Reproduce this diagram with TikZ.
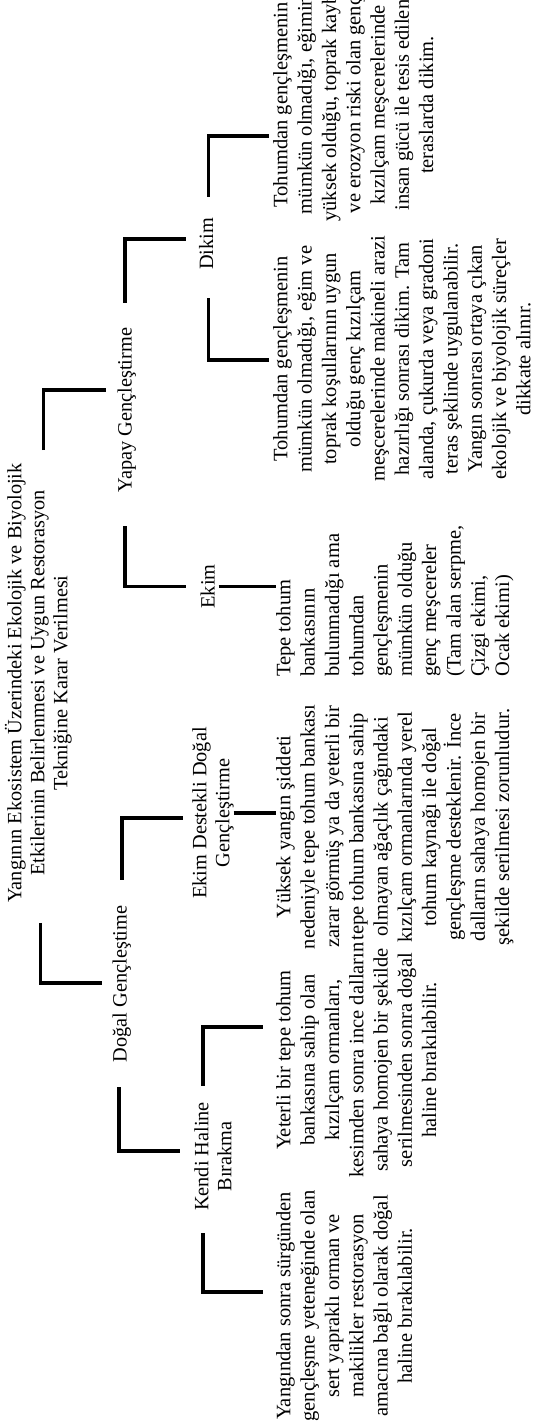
\documentclass[tikz,border=0pt]{standalone}
\usepackage{fontspec}
\setmainfont{Liberation Serif}
\begin{document}
\begin{tikzpicture}[x=1pt, y=1pt,
  lbl/.style={font=\fontsize{20.3}{23}\selectfont, align=center, inner sep=0pt, anchor=north,
    rotate=90, execute at begin node=\strut, execute at end node=\strut},
  leaf/.style={font=\fontsize{20.5}{24.3}\selectfont, align=center, inner sep=0pt, anchor=north,
    rotate=90, execute at begin node=\strut, execute at end node=\strut},
  bracket/.style={line width=3.2pt, line join=miter}
]
\useasboundingbox (0,0) rectangle (538,1422);
\clip (0,0) rectangle (538,1422);
% Every label reads upwards; x runs down the levels of the tree, y along them
% root and the two main methods
\node[lbl] (title) at (4.7,739) {Yangının Ekosistem Üzerindeki Ekolojik ve Biyolojik\\Etkilerinin Belirlenmesi ve Uygun Restorasyon\\Tekniğine Karar Verilmesi};
\node[lbl] (dogal) at (110.2,438) {Doğal Gençleştime};
\node[lbl] (yapay) at (115.2,1012) {Yapay Gençleştirme};
% second level
\node[lbl] (kendi) at (194.2,265.5) {Kendi Haline\\Bırakma};
\node[lbl] (ekimd) at (192.2,609) {Ekim Destekli Doğal\\Gençleştirme};
\node[lbl] (ekim) at (198.2,835.5) {Ekim};
\node[lbl] (dikim) at (196.7,1178) {Dikim};
% descriptions
\node[leaf] (leaf1) at (276,116) {Yangından sonra sürgünden\\gençleşme yeteneğinde olan\\sert yapraklı orman ve\\makilikler restorasyon\\amacına bağlı olarak doğal\\haline bırakılabilir.};
\node[leaf] (leaf2) at (276,362) {Yeterli bir tepe tohum\\bankasına sahip olan\\kızılçam ormanları,\\kesimden sonra ince dalların\\sahaya homojen bir şekilde\\serilmesinden sonra doğal\\haline bırakılabilir.};
\node[leaf] (leaf3) at (276,595) {Yüksek yangın şiddeti\\nedeniyle tepe tohum bankası\\zarar görmüş ya da yeterli bir\\tepe tohum bankasına sahip\\olmayan ağaçlık çağındaki\\kızılçam ormanlarında yerel\\tohum kaynağı ile doğal\\gençleşme desteklenir. İnce\\dalların sahaya homojen bir\\şekilde serilmesi zorunludur.};
\node[leaf, align=left, anchor=north west] (leaf4) at (276,745) {Tepe tohum\\bankasının\\bulunmadığı ama\\tohumdan\\gençleşmenin\\mümkün olduğu\\genç meşcereler\\(Tam alan serpme,\\Çizgi ekimi,\\Ocak ekimi)};
\node[leaf] (leaf5) at (273,1063) {Tohumdan gençleşmenin\\mümkün olmadığı, eğim ve\\toprak koşullarının uygun\\olduğu genç kızılçam\\meşcerelerinde makineli arazi\\hazırlığı sonrası dikim. Tam\\alanda, çukurda veya gradoni\\teras şeklinde uygulanabilir.\\Yangın sonrası ortaya çıkan\\ekolojik ve biyolojik süreçler\\dikkate alınır.};
\node[leaf] (leaf6) at (273,1317) {Tohumdan gençleşmenin\\mümkün olmadığı, eğimin\\yüksek olduğu, toprak kaybı\\ve erozyon riski olan genç\\kızılçam meşcerelerinde\\insan gücü ile tesis edilen\\teraslarda dikim.};

% connectors: out from the side of a label, along the level, then over to the child
\draw[bracket] ([xshift=1pt,yshift=-20pt]title.west) |- ([xshift=-8pt,yshift=1pt]dogal.north);
\draw[bracket] ([xshift=4pt,yshift=13pt]title.east) |- ([xshift=-9pt,yshift=20pt]yapay.north);
\draw[bracket] ([xshift=-3pt,yshift=-25pt]dogal.west) |- ([xshift=-14pt,yshift=5.5pt]kendi.north);
\draw[bracket] ([yshift=26pt]dogal.east) |- ([xshift=-9pt,yshift=-5pt]ekimd.north);
\draw[bracket] ([xshift=-2pt,yshift=-34pt]yapay.west) |- ([xshift=-12pt]ekim.north);
\draw[bracket] ([xshift=-2pt,yshift=25pt]yapay.east) |- ([xshift=-11pt,yshift=5pt]dikim.north);
\draw[bracket] ([xshift=8.8pt,yshift=-22pt]kendi.north west) |- ([xshift=-13pt,yshift=14pt]leaf1.north);
\draw[bracket] ([xshift=8.8pt,yshift=16pt]kendi.north east) |- ([xshift=-13pt,yshift=33pt]leaf2.north);
\draw[bracket] ([xshift=-3pt]ekimd.south) -- (ekimd.south -| leaf3.north);
\draw[bracket] ([xshift=-3pt]ekim.south) -- (ekim.south -| leaf4.north west);
\draw[bracket] ([yshift=-28pt]dikim.west) |- ([xshift=-4.5pt,yshift=-1pt]leaf5.north);
\draw[bracket] ([yshift=21pt]dikim.east) |- ([xshift=-4.5pt,yshift=-31pt]leaf6.north);
\end{tikzpicture}
\end{document}
